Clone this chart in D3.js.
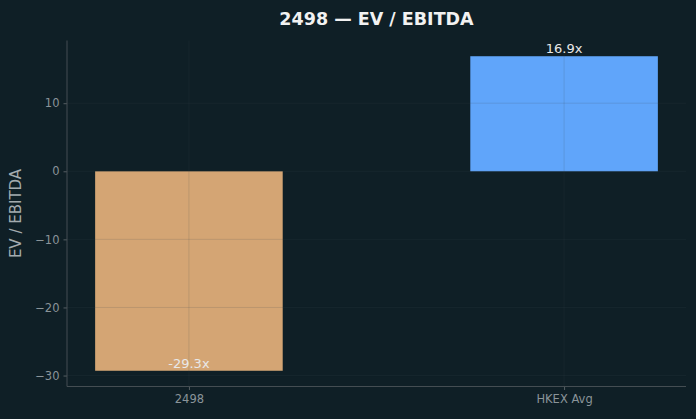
<!DOCTYPE html>
<html><head><meta charset="utf-8">
<script src="https://cdn.jsdelivr.net/npm/d3@7"></script>
<style>
html,body{margin:0;padding:0;background:#0f1f26;}
svg{display:block;font-family:"DejaVu Sans",sans-serif;}
</style></head>
<body><svg id="chart" width="696" height="419"></svg>
<script>
const categories = ["2498", "HKEX Avg"];
const values = [-29.3, 16.9];
const valueLabels = ["-29.3x", "16.9x"];
const barColors = ["#d4a574", "#60a5fa"];
const yTicks = [-30, -20, -10, 0, 10];
const title = "2498 — EV / EBITDA";
const yLabel = "EV / EBITDA";

const W = 696, H = 419;
const m = {left: 67, right: 10, top: 40.5, bottom: 32.5};
const svg = d3.select("#chart");
svg.append("rect").attr("width", W).attr("height", H).attr("fill", "#0f1f26");

const iw = W - m.left - m.right, ih = H - m.top - m.bottom;
const g = svg.append("g").attr("transform", `translate(${m.left},${m.top})`);

const ymin = Math.min(0, d3.min(values)), ymax = Math.max(0, d3.max(values));
const pad = (ymax - ymin) * 0.05;
const y = d3.scaleLinear().domain([ymin - pad, ymax + pad]).range([ih, 0]);

const n = categories.length;
const lo = -0.25, hi = n - 1 + 0.25, xp = (hi - lo) * 0.05;
const x = d3.scaleLinear().domain([lo - xp, hi + xp]).range([0, iw]);
const bw = 0.5;

g.selectAll("rect.bar").data(values).enter().append("rect")
  .attr("class", "bar")
  .attr("x", (d, i) => x(i - bw / 2))
  .attr("width", (d, i) => x(i + bw / 2) - x(i - bw / 2))
  .attr("y", d => y(Math.max(0, d)))
  .attr("height", d => Math.abs(y(d) - y(0)))
  .attr("fill", (d, i) => barColors[i]);

const gridColor = "#3d4a50";
const gridOp = 0.16;
g.append("g").selectAll("line").data(yTicks).enter().append("line")
  .attr("x1", 0).attr("x2", iw)
  .attr("y1", d => y(d)).attr("y2", d => y(d))
  .attr("stroke", gridColor).attr("stroke-opacity", gridOp).attr("stroke-width", 1);
g.append("g").selectAll("line").data(categories).enter().append("line")
  .attr("x1", (d, i) => x(i)).attr("x2", (d, i) => x(i))
  .attr("y1", 0).attr("y2", ih)
  .attr("stroke", gridColor).attr("stroke-opacity", gridOp).attr("stroke-width", 1);

const tickColor = "#8a9499";
const yAxis = d3.axisLeft(y).tickValues(yTicks).tickSize(3.5).tickPadding(4)
  .tickFormat(d => d < 0 ? "\u2212" + Math.abs(d) : String(d));
const ya = g.append("g").call(yAxis);
const xAxis = d3.axisBottom(x).tickValues(d3.range(n)).tickSize(3.5).tickPadding(5)
  .tickFormat(i => categories[i]);
const xa = g.append("g").attr("transform", `translate(0,${ih})`).call(xAxis);
[ya, xa].forEach(a => {
  a.select(".domain").remove();
  a.selectAll(".tick line").attr("stroke", "#555e63");
  a.selectAll(".tick text").attr("fill", tickColor)
    .style("font-family", "DejaVu Sans").style("font-size", "11.5px");
});
g.append("line").attr("x1", 0).attr("x2", 0).attr("y1", 0).attr("y2", ih)
  .attr("stroke", "#444d52").attr("stroke-width", 1);
g.append("line").attr("x1", 0).attr("x2", iw).attr("y1", ih).attr("y2", ih)
  .attr("stroke", "#444d52").attr("stroke-width", 1);

g.selectAll("text.val").data(values).enter().append("text")
  .attr("class", "val")
  .attr("x", (d, i) => x(i))
  .attr("y", d => y(d) - 3)
  .attr("text-anchor", "middle")
  .attr("fill", "#e8e8e8")
  .style("font-size", "13px")
  .text((d, i) => valueLabels[i]);

svg.append("text")
  .attr("transform", `translate(21,${m.top + ih / 2}) rotate(-90)`)
  .attr("text-anchor", "middle")
  .attr("fill", "#a3abaf")
  .style("font-size", "15px")
  .text(yLabel);

svg.append("text")
  .attr("x", m.left + iw / 2).attr("y", 25)
  .attr("text-anchor", "middle")
  .attr("fill", "#f2f2f2")
  .style("font-size", "17.5px").style("font-weight", "bold")
  .text(title);
</script></body></html>
